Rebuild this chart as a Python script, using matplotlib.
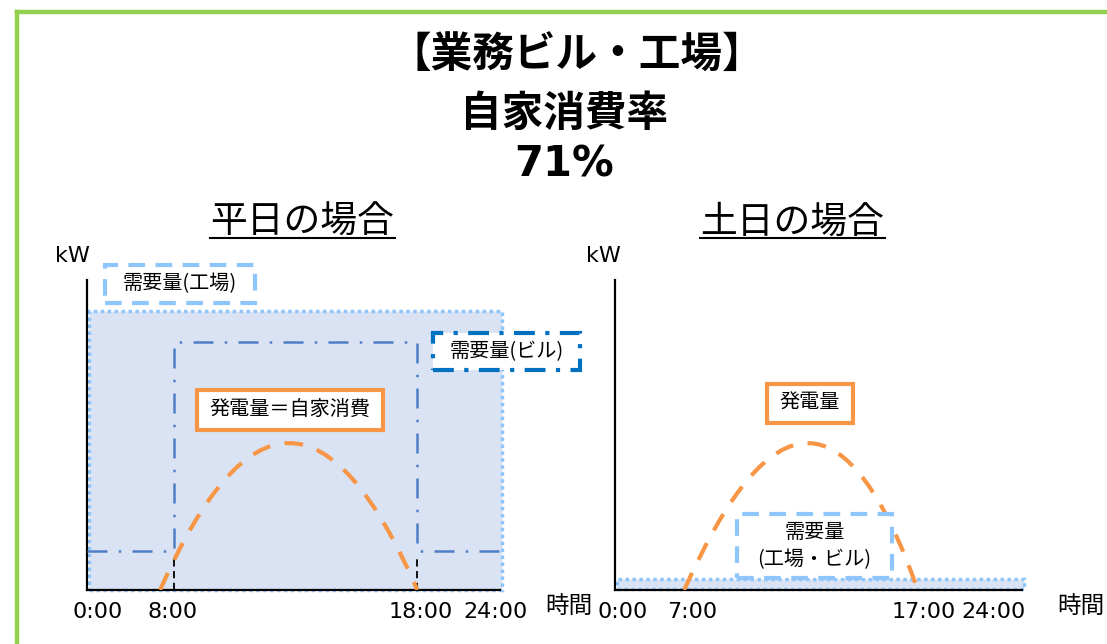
import matplotlib
matplotlib.use("Agg")
import matplotlib.pyplot as plt
from matplotlib.patches import Rectangle, PathPatch
from matplotlib.path import Path
from matplotlib.lines import Line2D

plt.rcParams['font.family'] = ['Noto Sans CJK JP', 'DejaVu Sans']

# ---- data (schematic units: x 0-100 along the day, y 0-100 kW) ----
title_lines = ["【業務ビル・工場】", "自家消費率", "71%"]

wd_tick_pos = [2.5, 20.6, 80.9, 99.0]
wd_tick_lab = ["0:00", "8:00", "18:00", "24:00"]
we_tick_pos = [1.8, 19.0, 75.9, 93.1]
we_tick_lab = ["0:00", "7:00", "17:00", "24:00"]

factory_demand = 90          # weekday factory demand (flat)
bldg_x = [0, 21, 21, 80, 80, 100]
bldg_y = [12.5, 12.5, 80, 80, 12.5, 12.5]
bldg_start, bldg_end = 21, 80

wd_gen = [(17.7, 0), (49, 47.4), (80, 0)]   # start, peak, end
we_gen = [(17, 0), (49, 47.4), (74.4, 0)]
we_demand = 3                # weekend demand (almost zero)

ORANGE = "#F79646"
LBLUE = "#8EC5FA"
DBLUE = "#0070C0"
MBLUE = "#4F7FC6"
FILL = "#DAE3F3"
GREEN = "#92D050"

fig = plt.figure(figsize=(11.07, 6.44), dpi=100)

# green frame
fig.add_artist(Line2D([0.0155, 0.0155], [0, 0.982], color=GREEN, lw=3.2, transform=fig.transFigure))
fig.add_artist(Line2D([0.0155, 1.0], [0.982, 0.982], color=GREEN, lw=3.2, transform=fig.transFigure))

# titles
fig.text(0.521, 0.913, title_lines[0], ha="center", va="center", fontsize=30, fontweight="bold")
fig.text(0.5095, 0.823, title_lines[1], ha="center", va="center", fontsize=30, fontweight="bold")
fig.text(0.5095, 0.745, title_lines[2], ha="center", va="center", fontsize=30, fontweight="bold",
         family="DejaVu Sans")

def subtitle(x, x0, x1, txt):
    fig.text(x, 0.655, txt, ha="center", va="center", fontsize=26.5)
    fig.add_artist(Line2D([x0, x1], [0.630, 0.630], color="black", lw=1.5, transform=fig.transFigure))

subtitle(0.2728, 0.1897, 0.3568, "平日の場合")
subtitle(0.7154, 0.6323, 0.7995, "土日の場合")


def gen_curve(ax, pts):
    (x0, y0), (xp, yp), (x1, y1) = pts
    path = Path([(x0, y0), (xp, 2 * yp - y0), (x1, y1)], [Path.MOVETO, Path.CURVE3, Path.CURVE3])
    ax.add_patch(PathPatch(path, fill=False, ec=ORANGE, lw=3, linestyle=(0, (4.5, 3.5)), zorder=4))


def box(ax, x0, y0, x1, y1, ec, ls, lw, text, fs=14.5):
    ax.add_patch(Rectangle((x0, y0), x1 - x0, y1 - y0, fc="white", ec=ec, lw=lw,
                           linestyle=ls, zorder=6, clip_on=False))
    ax.text((x0 + x1) / 2, (y0 + y1) / 2, text, ha="center", va="center", fontsize=fs,
            zorder=7, linespacing=1.4, clip_on=False)


def setup(ax, pos, labs):
    ax.set_xlim(0, 100)
    ax.set_ylim(0, 100)
    for s in ["top", "right"]:
        ax.spines[s].set_visible(False)
    for s in ["left", "bottom"]:
        ax.spines[s].set_linewidth(1.6)
        ax.spines[s].set_zorder(2)
    ax.set_yticks([])
    ax.set_xticks(pos)
    ax.set_xticklabels(labs, fontsize=16, family="DejaVu Sans")
    ax.tick_params(axis="x", length=0, pad=9)
    ax.patch.set_alpha(0)


# ---- weekday ----
ax1 = fig.add_axes([87 / 1107, 54 / 644, 413 / 1107, 310 / 644])
setup(ax1, wd_tick_pos, wd_tick_lab)
ax1.add_patch(Rectangle((0.5, 0), 100, factory_demand, fc=FILL, ec=LBLUE, lw=2.5,
                        linestyle=(0, (1, 1)), zorder=1, clip_on=False))
ax1.plot(bldg_x, bldg_y, color=MBLUE, lw=1.8, linestyle=(0, (8, 4.5, 1, 4.5)), zorder=3)
for xv in [bldg_start, bldg_end]:
    ax1.plot([xv, xv], [0, 10.5], color="black", lw=1.3, linestyle=(0, (4, 2.5)), zorder=3)
gen_curve(ax1, wd_gen)
box(ax1, 4.4, 92.6, 40.7, 104.8, LBLUE, (0, (4, 2.5)), 3, "需要量(工場)")
box(ax1, 83.8, 71.0, 119.4, 82.9, DBLUE, (0, (5, 2.5, 1, 2.5)), 3, "需要量(ビル)")
box(ax1, 26.6, 51.6, 71.7, 64.5, ORANGE, "-", 3, "発電量＝自家消費")

# ---- weekend ----
ax2 = fig.add_axes([615 / 1107, 54 / 644, 407 / 1107, 310 / 644])
setup(ax2, we_tick_pos, we_tick_lab)
ax2.add_patch(Rectangle((0.5, 0.4), 100, we_demand, fc=FILL, ec=LBLUE, lw=2.5,
                        linestyle=(0, (1, 1)), zorder=1, clip_on=False))
gen_curve(ax2, we_gen)
box(ax2, 37.3, 53.9, 58.5, 66.5, ORANGE, "-", 3, "発電量")
box(ax2, 30.0, 3.9, 68.0, 24.5, LBLUE, (0, (4, 2.5)), 3, "需要量\n(工場・ビル)")

# axis captions
for x in [0.065, 0.5447]:
    fig.text(x, 0.6025, "kW", ha="center", va="center", fontsize=16, family="DejaVu Sans")
for x in [0.514, 0.976]:
    fig.text(x, 0.0575, "時間", ha="center", va="center", fontsize=17)

fig.savefig("out.png", dpi=100)
